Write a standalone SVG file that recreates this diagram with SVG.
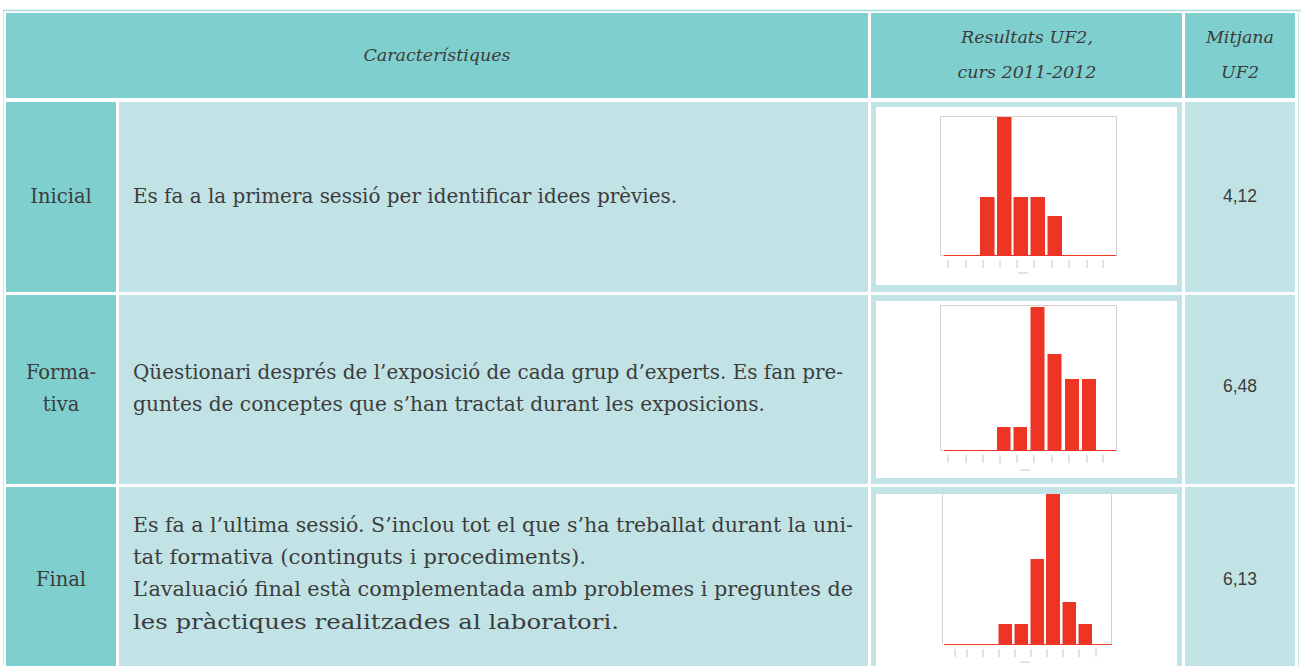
<svg xmlns="http://www.w3.org/2000/svg" width="1301" height="666" viewBox="0 0 1301 666">
<style>
.dark{fill:#80cfcf}
.light{fill:#c1e3e5}
.hd{font-family:"DejaVu Serif","Liberation Serif",serif;font-style:italic;font-size:17.5px;fill:#3c3c3c;text-anchor:middle}
.lb{font-family:"DejaVu Serif","Liberation Serif",serif;font-size:19.5px;fill:#3c3c3c;text-anchor:middle}
.tx{font-family:"DejaVu Serif","Liberation Serif",serif;font-size:19.5px;fill:#3c3c3c}
.num{font-family:"Liberation Sans","DejaVu Sans",sans-serif;font-size:17.5px;fill:#3c3c3c;text-anchor:middle}
.frame{fill:none;stroke:#d8d0d0;stroke-width:1}
.bar{fill:#ee3424}
.base{stroke:#ee3424;stroke-width:1.2}
.tick{stroke:#c8c8c8;stroke-width:1}
</style>
<rect width="1301" height="666" fill="#fff"/>
<line x1="3" y1="10.5" x2="1301" y2="10.5" stroke="#a6dcdc" stroke-width="1.5"/>
<line x1="3.5" y1="10" x2="3.5" y2="666" stroke="#c8e8e8" stroke-width="1"/>
<line x1="1298.5" y1="10" x2="1298.5" y2="666" stroke="#c8e8e8" stroke-width="1"/>

<g id="header">
<rect class="dark" x="6" y="13" width="862" height="85"/>
<rect class="dark" x="871" y="13" width="311" height="85"/>
<rect class="dark" x="1185" y="13" width="110" height="85"/>
<text class="hd" x="437" y="61">Característiques</text>
<text class="hd" x="1027" y="43">Resultats UF2,</text>
<text class="hd" x="1027" y="78">curs 2011-2012</text>
<text class="hd" x="1240" y="43">Mitjana</text>
<text class="hd" x="1240" y="78">UF2</text>
</g>

<g id="row-inicial">
<rect class="dark" x="6" y="102" width="110" height="190"/>
<rect class="light" x="119" y="102" width="749" height="190"/>
<rect class="light" x="871" y="102" width="311" height="190"/>
<rect class="light" x="1185" y="102" width="110" height="190"/>
<text class="lb" x="61" y="203">Inicial</text>
<text class="tx" x="133" y="203" textLength="544" lengthAdjust="spacingAndGlyphs">Es fa a la primera sessió per identificar idees prèvies.</text>
<rect x="876" y="107" width="301" height="178" fill="#fff"/>
<rect class="frame" x="940.5" y="116.5" width="176" height="139"/>
<line class="base" x1="944" y1="255.5" x2="1116" y2="255.5"/>
<rect class="bar" x="980" y="197" width="14.5" height="59"/>
<rect class="bar" x="997" y="117" width="14.5" height="139"/>
<rect class="bar" x="1013.5" y="197" width="14.5" height="59"/>
<rect class="bar" x="1030.5" y="197" width="14.5" height="59"/>
<rect class="bar" x="1047.5" y="216" width="14.5" height="40"/>
<path class="tick" d="M948 260v8M966 260v8M983 260v8M1000 260v8M1017 260v8M1034 260v8M1052 260v8M1069 260v8M1087 260v8M1103 260v8M1018 273h10"/>
<text class="num" x="1240" y="202">4,12</text>
</g>

<g id="row-formativa">
<rect class="dark" x="6" y="295" width="110" height="189"/>
<rect class="light" x="119" y="295" width="749" height="189"/>
<rect class="light" x="871" y="295" width="311" height="189"/>
<rect class="light" x="1185" y="295" width="110" height="189"/>
<text class="lb" x="61" y="379">Forma-</text>
<text class="lb" x="61" y="411">tiva</text>
<text class="tx" x="133" y="379" textLength="710" lengthAdjust="spacingAndGlyphs">Qüestionari després de l’exposició de cada grup d’experts. Es fan pre-</text>
<text class="tx" x="133" y="411" textLength="632" lengthAdjust="spacingAndGlyphs">guntes de conceptes que s’han tractat durant les exposicions.</text>
<rect x="876" y="301" width="301" height="177" fill="#fff"/>
<rect class="frame" x="940.5" y="305.5" width="176" height="145"/>
<line class="base" x1="944" y1="450.5" x2="1116" y2="450.5"/>
<rect class="bar" x="997" y="427" width="13.5" height="24"/>
<rect class="bar" x="1013.5" y="427" width="13.5" height="24"/>
<rect class="bar" x="1030.5" y="307" width="14" height="144"/>
<rect class="bar" x="1047.5" y="354" width="14" height="97"/>
<rect class="bar" x="1065" y="379" width="14" height="72"/>
<rect class="bar" x="1082" y="379" width="14" height="72"/>
<path class="tick" d="M948 455v8M966 455v8M983 455v8M1000 455v8M1017 455v8M1034 455v8M1052 455v8M1069 455v8M1087 455v8M1103 455v8M1020 470h10"/>
<text class="num" x="1240" y="392">6,48</text>
</g>

<g id="row-final">
<rect class="dark" x="6" y="487" width="110" height="179"/>
<rect class="light" x="119" y="487" width="749" height="179"/>
<rect class="light" x="871" y="487" width="311" height="179"/>
<rect class="light" x="1185" y="487" width="110" height="179"/>
<text class="lb" x="61" y="586">Final</text>
<text class="tx" x="133" y="532" textLength="720" lengthAdjust="spacingAndGlyphs">Es fa a l’ultima sessió. S’inclou tot el que s’ha treballat durant la uni-</text>
<text class="tx" x="133" y="564" textLength="453" lengthAdjust="spacingAndGlyphs">tat formativa (continguts i procediments).</text>
<text class="tx" x="133" y="596" textLength="720" lengthAdjust="spacingAndGlyphs">L’avaluació final està complementada amb problemes i preguntes de</text>
<text class="tx" x="133" y="629" textLength="486" lengthAdjust="spacingAndGlyphs">les pràctiques realitzades al laboratori.</text>
<rect x="876" y="494" width="301" height="172" fill="#fff"/>
<path class="frame" d="M942.5 494v150.5M1111.5 494v150.5"/>
<line class="base" x1="944" y1="644.5" x2="1112" y2="644.5"/>
<rect class="bar" x="998.5" y="624" width="13.5" height="21"/>
<rect class="bar" x="1014.5" y="624" width="13.5" height="21"/>
<rect class="bar" x="1030.5" y="559" width="13.5" height="86"/>
<rect class="bar" x="1046" y="494" width="14" height="151"/>
<rect class="bar" x="1062.5" y="602" width="13.5" height="43"/>
<rect class="bar" x="1078.5" y="624" width="13.5" height="21"/>
<path class="tick" d="M955 649v8M967 649v8M983 649v8M999 649v8M1015 649v8M1031 649v8M1047 649v8M1063 649v8M1079 649v8M1096 649v8M1020 662h10"/>
<text class="num" x="1240" y="585">6,13</text>
</g>
</svg>
